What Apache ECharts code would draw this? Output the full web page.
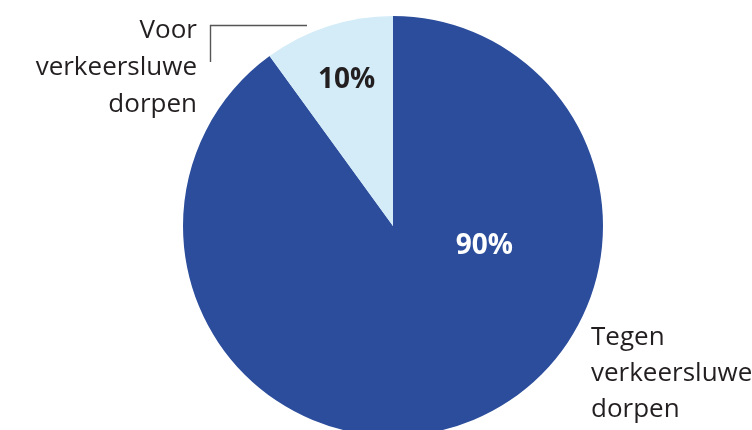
<!DOCTYPE html>
<html><head><meta charset="utf-8">
<script src="https://cdn.jsdelivr.net/npm/echarts@6/dist/echarts.min.js"></script>
<style>html,body{margin:0;padding:0;background:#fff}#c{width:752px;height:430px}</style>
</head><body><div id="c"></div>
<script>
var categories = ['Tegen verkeersluwe dorpen', 'Voor verkeersluwe dorpen'];
var values = [90, 10];
var colors = ['#2b4d9c', '#d3ecf8'];
var labelColors = ['#ffffff', '#231f20'];
var labelOffsets = [[58, -83], [-13, -43]];

var chart = echarts.init(document.getElementById('c'), null, {renderer: 'canvas'});
var FONT = '"Open Sans", sans-serif';
chart.setOption({
  animation: false,
  series: [{
    type: 'pie',
    center: [393, 226],
    radius: 210,
    startAngle: 90,
    clockwise: true,
    silent: true,
    labelLine: {show: false},
    data: categories.map(function (c, i) {
      return {
        name: c, value: values[i],
        itemStyle: {color: colors[i]},
        label: {
          show: true, position: 'inside', offset: labelOffsets[i],
          formatter: '{c}%', color: labelColors[i],
          fontFamily: FONT, fontWeight: 'bold', fontSize: 28
        }
      };
    })
  }],
  graphic: [
    {type: 'polyline', shape: {points: [[307, 25.5], [210.5, 25.5], [210.5, 62]]},
     style: {stroke: '#555555', lineWidth: 1.4, fill: null}},
    {type: 'text', x: 197, y: 68, style: {
      text: categories[1].replace(' verkeersluwe ', '\nverkeersluwe\n'),
      align: 'right', verticalAlign: 'middle', fill: '#231f20',
      font: '26px ' + FONT, lineHeight: 37}},
    {type: 'text', x: 591, y: 374, style: {
      text: categories[0].replace(' verkeersluwe ', '\nverkeersluwe\n'),
      align: 'left', verticalAlign: 'middle', fill: '#231f20',
      font: '26px ' + FONT, lineHeight: 36}}
  ]
});
</script></body></html>
